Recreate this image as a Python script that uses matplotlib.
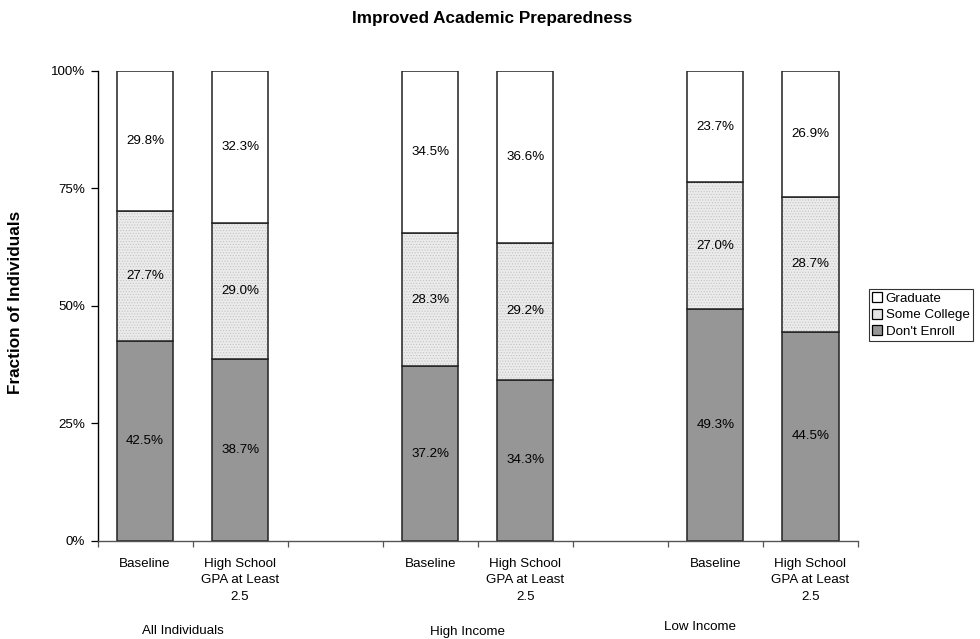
import matplotlib
matplotlib.use("Agg")
import matplotlib.pyplot as plt
from matplotlib.patches import Patch
from matplotlib.ticker import FixedLocator, PercentFormatter

plt.rcParams['font.family'] = ['Liberation Sans', 'DejaVu Sans']
plt.rcParams['hatch.linewidth'] = 0.5

# Scenario labels (two per group) and group names
bar_labels = ["Baseline", "High School\nGPA at Least\n2.5"] * 3
groups = ["All Individuals", "High Income", "Low Income"]

# Outcome shares in percent, ordered by bar
dont_enroll = [42.5, 38.7, 37.2, 34.3, 49.3, 44.5]
some_college = [27.7, 29.0, 28.3, 29.2, 27.0, 28.7]
graduate = [29.8, 32.3, 34.5, 36.6, 23.7, 26.9]

# Category slots: two bars per group followed by an empty slot
slots = [0, 1, 3, 4, 6, 7]
n_slots = 8

FS = 9.6

fig = plt.figure(figsize=(9.8, 6.39), dpi=100)
ax = fig.add_axes([0.0995, 0.1534, 0.776, 0.7355])

width = 0.59
edge = dict(edgecolor="#222222", linewidth=1.1)
bottom3 = [a + b for a, b in zip(dont_enroll, some_college)]

ax.bar(slots, dont_enroll, width, color="#969696", **edge)
# Some College: light dotted fill, then a crisp outline on top
ax.bar(slots, some_college, width, bottom=dont_enroll, facecolor="#ebebeb",
       edgecolor="#c4c4c4", hatch="......", linewidth=0)
ax.bar(slots, some_college, width, bottom=dont_enroll, fill=False, **edge)
ax.bar(slots, graduate, width, bottom=bottom3, color="white", **edge)

# Segment value labels
for x, d, s, g in zip(slots, dont_enroll, some_college, graduate):
    ax.text(x, d / 2, f"{d:.1f}%", ha="center", va="center", fontsize=FS)
    ax.text(x, d + s / 2, f"{s:.1f}%", ha="center", va="center", fontsize=FS)
    ax.text(x, d + s + g / 2, f"{g:.1f}%", ha="center", va="center", fontsize=FS)

ax.set_xlim(-0.5, n_slots - 0.5)
ax.set_ylim(0, 100)
ax.yaxis.set_major_locator(FixedLocator([0, 25, 50, 75, 100]))
ax.yaxis.set_major_formatter(PercentFormatter(decimals=0))
ax.tick_params(axis="y", labelsize=FS, length=5, width=0.9, direction="out", pad=4)

# Tick marks at slot boundaries, labels centred under each bar
ax.set_xticks([i - 0.5 for i in range(n_slots + 1)])
ax.set_xticklabels([])
ax.tick_params(axis="x", length=4, width=0.9, color="#555555")
for x, lab in zip(slots, bar_labels):
    ax.text(x, -3.6, lab, ha="center", va="top", fontsize=FS,
            linespacing=1.5, transform=ax.transData)

for spine in ("top", "right"):
    ax.spines[spine].set_visible(False)
ax.spines["left"].set_linewidth(1.0)
ax.spines["bottom"].set_color("#555555")
ax.spines["bottom"].set_linewidth(1.0)

# Group names below the axis
group_pos = [(183, 631), (467, 632), (700, 627)]
for (px, py), name in zip(group_pos, groups):
    fig.text(px / 980, 1 - py / 639, name, ha="center", va="center", fontsize=FS)

fig.text(492 / 980, 1 - 18 / 639, "Improved Academic Preparedness",
         ha="center", va="center", fontsize=12.3, fontweight="bold")
fig.text(16 / 980, 1 - 302 / 639, "Fraction of Individuals", rotation=90,
         ha="center", va="center", fontsize=12.3, fontweight="bold")

handles = [Patch(facecolor="white", edgecolor="black", linewidth=0.9),
           Patch(facecolor="#e4e4e4", edgecolor="black", linewidth=0.9),
           Patch(facecolor="#969696", edgecolor="black", linewidth=0.9)]
leg = fig.legend(handles, ["Graduate", "Some College", "Don't Enroll"],
                 loc="upper left", bbox_to_anchor=(869 / 980, 1 - 289 / 639),
                 fontsize=FS, frameon=True, fancybox=False, borderpad=0.25,
                 handlelength=0.75, handleheight=0.75, handletextpad=0.25,
                 labelspacing=0.3, borderaxespad=0)
leg.get_frame().set_edgecolor("black")
leg.get_frame().set_linewidth(0.8)

fig.savefig("out.png", dpi=100, facecolor="white")
